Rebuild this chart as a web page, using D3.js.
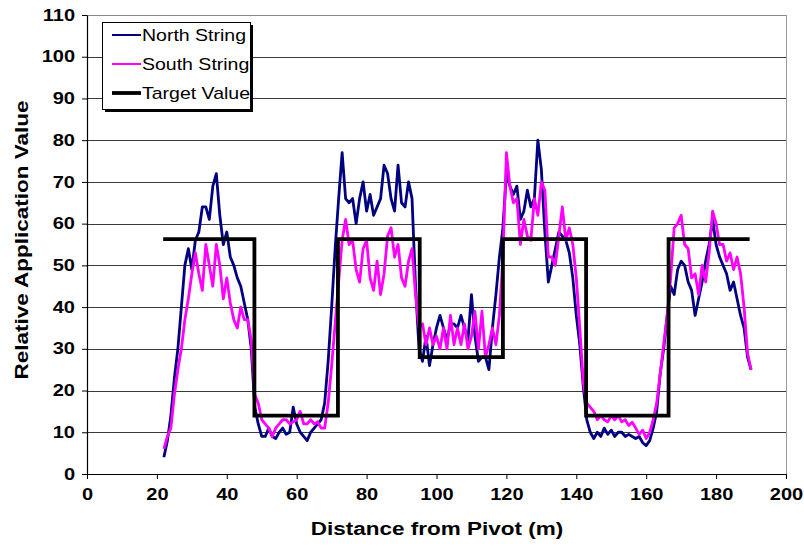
<!DOCTYPE html>
<html>
<head>
<meta charset="utf-8">
<script src="https://cdn.jsdelivr.net/npm/d3@7"></script>
<style>
  body { margin: 0; background: #fff; }
  svg { display: block; font-family: "Liberation Sans", Arial, sans-serif; }
</style>
</head>
<body>
<div id="chart"></div>
<script>
// sample positions along the pivot (m)
var distances = d3.range(22, 191);

// North string readings, one per metre from 22 m to 190 m
var northString = [
  4, 8, 14, 23, 30, 40, 50, 54, 49, 56, 58, 64, 64, 61, 69, 72, 62, 55, 58, 52,
  50, 47, 45, 41, 37, 30, 16, 12, 9, 9, 11, 9, 8.5, 10, 11, 9.5, 10, 16, 12, 10,
  9, 8, 10, 11, 12, 13, 17, 27, 40, 54, 66, 77, 66, 65, 66, 60, 66, 70, 63, 67,
  62, 64, 66, 74, 72, 66, 63, 74, 65, 64, 70, 66, 45, 30, 27, 33, 26, 31, 35, 38,
  35, 32, 36, 36, 35, 38, 35, 32, 43, 33, 27, 28, 28, 25, 35, 43, 52, 59, 72, 69,
  67, 69, 61, 63, 68, 64, 66, 80, 73, 58, 46, 50, 54, 58, 57, 56, 53, 47, 38, 31,
  21, 13, 10, 8.5, 10, 9, 11, 9.5, 10.5, 9, 10, 10, 9, 9.5, 9, 8.5, 9, 7.5, 6.8, 8,
  11, 15, 24, 30, 38, 45, 43, 49, 51, 50, 46, 44, 38, 42, 46, 51, 55, 61, 55, 52,
  50, 48, 44, 46, 42, 38, 35, 28, 25
];

// South string readings, same positions
var southString = [
  6, 9, 11, 19, 25, 30, 37, 42, 48, 53, 48, 44, 55, 50, 45, 55, 50, 42, 47, 41,
  37, 35, 40, 37, 37, 32, 19, 17, 13, 12, 11, 9, 11, 12, 13, 13, 12, 12.5, 13, 15,
  12, 12, 13, 12, 12.5, 11, 11, 17, 26, 36, 46, 56, 61, 55, 56, 49, 46, 54, 56, 47,
  44, 51, 43, 48, 57, 59, 52, 55, 47, 45, 51, 54, 43, 35, 36, 31, 35, 31, 33, 30,
  35, 30, 38, 31, 35, 31, 36, 30, 33, 39, 30, 39, 28, 31, 35, 31, 38, 52, 77, 69,
  65, 66, 55, 61, 57, 56, 66, 62, 70, 68, 52, 52, 50, 57, 64, 56, 59, 55, 47, 35,
  22, 17, 16, 15, 13, 14, 13, 12.5, 14, 13, 14, 12.5, 13, 11.6, 12.4, 11, 9.5, 10.5, 8.5, 10,
  13, 17, 24, 31, 38, 47, 59, 60, 62, 55, 54, 47, 48, 43, 50, 46, 53, 63, 60, 55,
  55, 51, 53, 49, 52, 48, 40, 29, 25
];

// target application: levels between break points
var targetBreaks = [21.8, 47.9, 71.8, 95.2, 119, 142.8, 166.4, 189.6];
var targetLevels = [56.3, 14, 56.3, 28, 56.3, 14, 56.3];

var xTicks = [0, 20, 40, 60, 80, 100, 120, 140, 160, 180, 200];
var yTicks = [0, 10, 20, 30, 40, 50, 60, 70, 80, 90, 100, 110];

var legendNames = ["North String", "South String", "Target Value"];
var colors = ["#000080", "#ff00ff", "#000000"];

var w = 804, h = 546;
var plotLeft = 87, plotRight = 786, plotTop = 15, plotBottom = 474;
var stretch = 1.25; // the original text is drawn wider than normal

var svg = d3.select("#chart").append("svg").attr("width", w).attr("height", h);

var xScale = d3.scaleLinear().domain([0, 200]).range([plotLeft, plotRight]);
var yScale = d3.scaleLinear().domain([0, 110]).range([plotBottom, plotTop]);

// gridlines
svg.append("g")
  .selectAll("line")
  .data(yTicks.slice(1))
  .enter()
  .append("line")
  .attr("x1", plotLeft).attr("x2", plotRight)
  .attr("y1", function(d) { return Math.round(yScale(d)) + 0.5; })
  .attr("y2", function(d) { return Math.round(yScale(d)) + 0.5; })
  .attr("stroke", function(d) { return d == 110 ? "#888" : "#3a3a3a"; })
  .attr("stroke-width", 1);

// right border of plot area
svg.append("line")
  .attr("x1", plotRight + 0.5).attr("x2", plotRight + 0.5)
  .attr("y1", plotTop).attr("y2", plotBottom)
  .attr("stroke", "#999");

// series
var line = d3.line()
  .x(function(d) { return xScale(d[0]); })
  .y(function(d) { return yScale(d[1]); });

var northPts = distances.map(function(d, i) { return [d, northString[i]]; });
var southPts = distances.map(function(d, i) { return [d, southString[i]]; });

svg.append("path").attr("d", line(northPts))
  .attr("fill", "none").attr("stroke", colors[0]).attr("stroke-width", 2.8)
  .attr("stroke-linejoin", "round");
svg.append("path").attr("d", line(southPts))
  .attr("fill", "none").attr("stroke", colors[1]).attr("stroke-width", 2.8)
  .attr("stroke-linejoin", "round");

var targetPts = targetLevels.map(function(v, i) { return [targetBreaks[i], v]; });
targetPts.push([targetBreaks[targetBreaks.length - 1], targetLevels[targetLevels.length - 1]]);
var stepLine = d3.line()
  .x(function(d) { return xScale(d[0]); })
  .y(function(d) { return yScale(d[1]); })
  .curve(d3.curveStepAfter);
svg.append("path").attr("d", stepLine(targetPts))
  .attr("fill", "none").attr("stroke", colors[2]).attr("stroke-width", 3.8);

// axes
var xAxis = d3.axisBottom(xScale).tickValues(xTicks).tickSize(5).tickSizeOuter(0);
var yAxis = d3.axisLeft(yScale).tickValues(yTicks).tickSize(5).tickSizeOuter(0);

var gx = svg.append("g").attr("transform", "translate(0," + plotBottom + ")").call(xAxis);
var gy = svg.append("g").attr("transform", "translate(" + plotLeft + ",0)").call(yAxis);

[gx, gy].forEach(function(g) {
  g.select(".domain").attr("stroke", "#000").attr("stroke-width", 1.2);
  g.selectAll(".tick line").attr("stroke", "#000");
  g.selectAll(".tick text")
    .attr("fill", "#000")
    .style("font-size", "16px")
    .style("font-weight", "bold")
    .style("font-family", "'Liberation Sans', Arial, sans-serif");
});
gx.selectAll(".tick text").attr("dy", "1.15em")
  .attr("transform", "scale(" + stretch + ",1)");
gy.selectAll(".tick text").attr("x", -12 / stretch)
  .attr("transform", "scale(" + stretch + ",1)");

// axis titles
svg.append("text")
  .attr("transform", "translate(437,535) scale(" + stretch + ",1)")
  .attr("text-anchor", "middle")
  .style("font-size", "18px").style("font-weight", "bold")
  .text("Distance from Pivot (m)");

svg.append("text")
  .attr("transform", "translate(28,240) rotate(-90) scale(" + stretch + ",1)")
  .attr("text-anchor", "middle")
  .style("font-size", "18px").style("font-weight", "bold")
  .text("Relative Application Value");

// legend with drop shadow
var lg = svg.append("g").attr("transform", "translate(102,22)");
lg.append("rect").attr("x", 3).attr("y", 3).attr("width", 148).attr("height", 87).attr("fill", "#000");
lg.append("rect").attr("x", 0.5).attr("y", 0.5).attr("width", 148).attr("height", 87)
  .attr("fill", "#fff").attr("stroke", "#000").attr("stroke-width", 1);

legendNames.forEach(function(name, i) {
  var yy = 13 + i * 29;
  lg.append("line")
    .attr("x1", 10).attr("x2", 39).attr("y1", yy).attr("y2", yy)
    .attr("stroke", colors[i]).attr("stroke-width", i == 2 ? 3.8 : 2);
  lg.append("text")
    .attr("transform", "translate(40," + yy + ") scale(1.22,1)")
    .attr("dy", "0.35em")
    .style("font-size", "16px")
    .text(name);
});
</script>
</body>
</html>
